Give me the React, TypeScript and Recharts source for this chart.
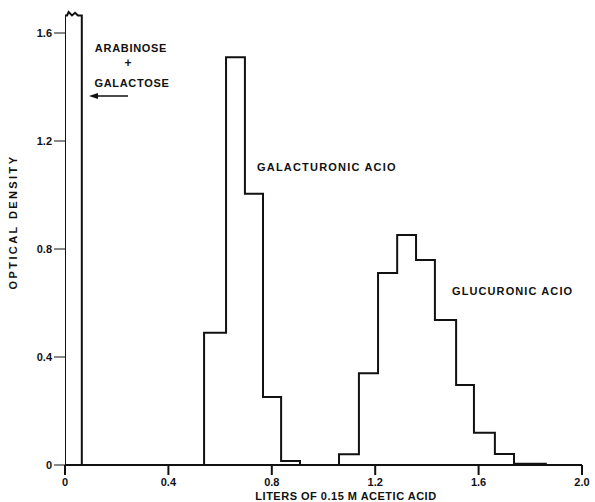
import React from 'react';
import { LineChart, Line, XAxis, YAxis } from 'recharts';

// arabinose + galactose peak (off scale, broken top)
const sugarLiters = [0, 0, 0.008, 0.014, 0.027, 0.039, 0.05, 0.065, 0.065];
const sugarOD = [0, 1.665, 1.665, 1.678, 1.665, 1.675, 1.665, 1.665, 0];

// galacturonic acid fractions (step edges)
const galLiters = [0.538, 0.538, 0.623, 0.696, 0.766, 0.836, 0.909];
const galOD = [0, 0.49, 1.51, 1.005, 0.252, 0.015, 0];

// glucuronic acid fractions
const gluLiters = [1.06, 1.06, 1.137, 1.211, 1.285, 1.358, 1.431, 1.513, 1.582, 1.663, 1.737, 1.86];
const gluOD = [0, 0.04, 0.34, 0.711, 0.852, 0.759, 0.537, 0.296, 0.119, 0.041, 0.005, 0];

const xTicks = [0, 0.4, 0.8, 1.2, 1.6, 2.0];
const xTickLabels = ['0', '0.4', '0.8', '1.2', '1.6', '2.0'];
const yTicks = [0, 0.4, 0.8, 1.2, 1.6];
const yTickLabels = ['0', '0.4', '0.8', '1.2', '1.6'];

const toPoints = (xs: number[], ys: number[]) => xs.map((x, i) => ({ x, y: ys[i] }));

const sugarData = toPoints(sugarLiters, sugarOD);
const galData = toPoints(galLiters, galOD);
const gluData = toPoints(gluLiters, gluOD);

const font = '"Liberation Sans", Arial, sans-serif';
const ink = '#111';

const tickStyle = { fill: ink, fontSize: 11, fontWeight: 700, fontFamily: font };

export default function App() {
  return (
    <div style={{ position: 'absolute', left: 0, top: 0, width: 595, height: 502, background: '#fff' }}>
      <LineChart width={595} height={502} margin={{ top: 6, right: 13, bottom: 0, left: 0 }}>
        <XAxis
          type="number"
          dataKey="x"
          domain={[0, 2]}
          ticks={xTicks}
          tickFormatter={(v: number) => xTickLabels[xTicks.indexOf(v)]}
          height={37}
          tickSize={10}
          tickMargin={3}
          stroke={ink}
          strokeWidth={2}
          tick={tickStyle}
          allowDataOverflow
        />
        <YAxis
          type="number"
          dataKey="y"
          domain={[0, 1.7]}
          ticks={yTicks}
          tickFormatter={(v: number) => yTickLabels[yTicks.indexOf(v)]}
          width={65}
          tickSize={11}
          tickMargin={2}
          axisLine={false}
          stroke={ink}
          tick={tickStyle}
          allowDataOverflow
        />
        <Line data={sugarData} dataKey="y" type="linear" stroke={ink} strokeWidth={2} dot={false} isAnimationActive={false} />
        <Line data={galData} dataKey="y" type="stepAfter" stroke={ink} strokeWidth={2} dot={false} isAnimationActive={false} />
        <Line data={gluData} dataKey="y" type="stepAfter" stroke={ink} strokeWidth={2} dot={false} isAnimationActive={false} />
      </LineChart>
      <svg
        width={595}
        height={502}
        style={{ position: 'absolute', left: 0, top: 0, pointerEvents: 'none' }}
        fontFamily={font}
        fontWeight={700}
        fill={ink}
      >
        <text x={131} y={52} fontSize={11} textAnchor="middle" letterSpacing={0.7}>ARABINOSE</text>
        <text x={128} y={67} fontSize={12} textAnchor="middle">+</text>
        <text x={132} y={87} fontSize={11} textAnchor="middle" letterSpacing={0.7}>GALACTOSE</text>
        <line x1={95} y1={96} x2={128} y2={96} stroke={ink} strokeWidth={1.6} />
        <polygon points="89,96 98,93 98,99" fill={ink} />
        <text x={257} y={171} fontSize={11} letterSpacing={1.2}>GALACTURONIC ACIO</text>
        <text x={452} y={295} fontSize={11} letterSpacing={1.1}>GLUCURONIC ACIO</text>
        <text x={346} y={500} fontSize={11} textAnchor="middle" letterSpacing={0.5}>LITERS OF 0.15 M ACETIC ACID</text>
        <text
          x={14}
          y={222}
          fontSize={11}
          textAnchor="middle"
          letterSpacing={2.4}
          transform="rotate(-90 14 222)"
          dominantBaseline="middle"
        >
          OPTICAL DENSITY
        </text>
      </svg>
    </div>
  );
}
